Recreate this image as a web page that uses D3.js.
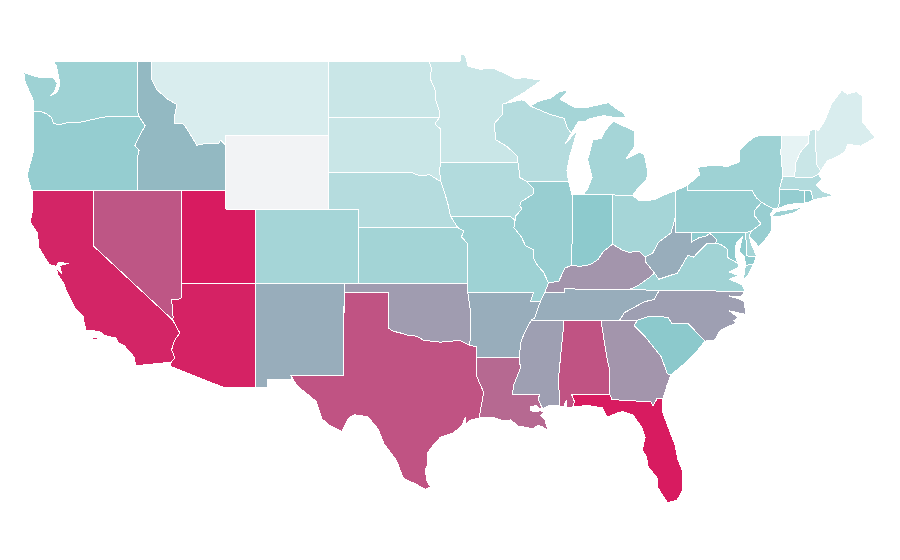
<!DOCTYPE html>
<html>
<head>
<meta charset="utf-8">
<script src="https://cdn.jsdelivr.net/npm/d3@7"></script>
<style>
  html, body { margin: 0; background: #fff; }
  svg { display: block; }
  path.state { stroke: #fff; stroke-width: 1px; shape-rendering: crispEdges; stroke-linejoin: round; }
</style>
</head>
<body>
<div id="map"></div>
<script>
// values, null = no data
var stateNames = ["Washington","Oregon","California","Nevada","Idaho","Montana","Utah","Arizona","New Mexico","Colorado",
  "North Dakota","South Dakota","Nebraska","Kansas","Oklahoma","Texas","Minnesota","Iowa","Missouri","Arkansas",
  "Louisiana","Wisconsin","Illinois","Michigan","Indiana","Ohio","Kentucky","Tennessee","Mississippi","Alabama",
  "Georgia","Florida","South Carolina","North Carolina","Virginia","West Virginia","Pennsylvania","New York","New Jersey","Delaware",
  "Maryland","Connecticut","Rhode Island","Massachusetts","Vermont","New Hampshire","Maine","Wyoming"];
var stateValues = [42,46,97,83,54.5,16.5,100,98,58,39,
  23.5,23.5,32,40,63,84,23.5,33.5,42,58,
  77.5,32,45,39,49.5,39,65,58,62,84,
  65,100,50,62,41,58,45,42,45,39,
  48.5,46.5,50,33.5,11,23.5,16.5,null];

var colorStops = [0, 50, 100];
var colorRange = ["#ffffff", "#8cc9cc", "#d81b60"];
var noDataColor = "#f2f3f5";

// shared borders, [lon, lat]
var columbia = [[-124.05,46.27],[-123.55,46.26],[-123.2,46.15],[-122.85,45.95],[-122.7,45.6],[-122.2,45.58],[-121.6,45.7],[-121.2,45.65],[-120.6,45.74],[-119.6,45.92],[-118.98,46],[-116.92,46]];
var snake = [[-116.92,46],[-116.5,45.5],[-116.85,45],[-117.2,44.45],[-116.9,44.15],[-117.03,43.8],[-117.03,42]];
var idMt = [[-116.05,49],[-116.05,48],[-115.7,47.45],[-115,46.95],[-114.35,46.65],[-114.5,46],[-114.5,45.6],[-114,45.65],[-113.8,45.5],[-113.45,45.05],[-113,44.45],[-112.3,44.55],[-111.5,44.55],[-111.4,44.73],[-111.05,44.47]];
var coloradoNorth = [[-114.05,36.2],[-114.3,36.1],[-114.7,36.1],[-114.6,35.15],[-114.63,35]];
var coloradoSouth = [[-114.63,35],[-114.15,34.3],[-114.5,33.9],[-114.7,33.4],[-114.5,32.95],[-114.72,32.72]];
var redRiver = [[-100,34.56],[-99.7,34.4],[-99.2,34.3],[-98.6,34.15],[-98.1,34.13],[-97.6,33.9],[-97,33.85],[-96.5,33.8],[-95.8,33.85],[-95.2,33.9],[-94.48,33.64]];
var txLa = [[-94.04,33],[-94.04,32],[-93.8,31.55],[-93.55,31.1],[-93.7,30.4],[-93.85,29.7]];
var ndMn = [[-97.23,49],[-97.1,48.6],[-97.15,48],[-96.85,47.5],[-96.8,46.9],[-96.55,46.3],[-96.56,45.94]];
var sdMn = [[-96.56,45.94],[-96.85,45.6],[-96.45,45.3],[-96.45,43.5]];
var sdIa = [[-96.45,43.5],[-96.55,43.1],[-96.45,42.5]];
var sdNe = [[-98.5,43],[-97.9,42.8],[-97.2,42.85],[-96.7,42.6],[-96.45,42.5]];
var neIa = [[-96.45,42.5],[-96.2,41.9],[-95.95,41.2],[-95.85,40.8],[-95.77,40.58]];
var neMo = [[-95.77,40.58],[-95.31,40]];
var ksMo = [[-95.31,40],[-94.9,39.8],[-95.05,39.5],[-94.62,39.1]];
var mnWi = [[-92.29,46.66],[-92.29,46.1],[-92.85,45.6],[-92.75,45],[-92.75,44.75],[-92,44.4],[-91.25,43.85],[-91.22,43.5]];
var wiIa = [[-91.22,43.5],[-91.15,43.1],[-91.1,42.7],[-90.64,42.5]];
var ilIa = [[-90.64,42.5],[-90.15,42.1],[-90.2,41.8],[-91,41.4],[-91.1,41.2],[-90.95,41],[-91.4,40.6],[-91.42,40.38]];
var ilMo = [[-91.42,40.38],[-91.5,40],[-91,39.5],[-90.7,39],[-90.15,38.8],[-90.2,38.4],[-89.9,37.95],[-89.5,37.6],[-89.15,37]];
var moKy = [[-89.15,37],[-89.4,36.5]];
var bootheel = [[-89.7,36],[-90.37,36],[-90.15,36.5]];
var tnMo = [[-89.4,36.5],[-89.7,36]];
var tnAr = [[-89.7,36],[-90.1,35.1],[-90.3,35]];
var arMs = [[-90.3,35],[-90.6,34.6],[-91,33.9],[-91.15,33]];
var laMs = [[-91.15,33],[-91.05,32.4],[-91.5,31.5],[-91.6,31],[-89.75,31],[-89.85,30.7],[-89.55,30.2]];
var wiMi = [[-90.4,46.57],[-89.1,46.13],[-88.1,45.9],[-87.85,45.35],[-87.6,45.1]];
var ohioOh = [[-82.6,38.4],[-83,38.73],[-83.7,38.65],[-84.2,38.8],[-84.8,39.1]];
var ohioIn = [[-84.8,39.1],[-85.4,38.73],[-85.8,38.27],[-86.3,38],[-87,37.9],[-87.6,37.95]];
var ohioIl = [[-87.6,37.95],[-88.05,37.8],[-88.45,37.1],[-89.15,37]];
var wabash = [[-87.6,37.95],[-87.6,38.7],[-87.53,39.35],[-87.53,41.76]];
var ohWv = [[-80.52,40.64],[-80.85,39.7],[-81.7,39.2],[-82.1,38.6],[-82.6,38.4]];
var kyWv = [[-82.6,38.4],[-82.6,38.17],[-81.97,37.54]];
var kyVa = [[-81.97,37.54],[-82.3,37.3],[-83.1,36.85],[-83.68,36.65]];
var wvVa = [[-81.97,37.54],[-81.68,37.2],[-80.4,37.54],[-79.7,38.5],[-79.3,38.4],[-78.9,38.75],[-78.4,39.15],[-77.83,39.13]];
var wvMd = [[-77.83,39.13],[-77.75,39.35],[-78.2,39.68],[-78.45,39.55],[-78.95,39.45],[-79.48,39.2],[-79.48,39.72]];
var potomac = [[-76.3,38.05],[-77.05,38.4],[-77.05,38.85],[-77.5,39.1],[-77.83,39.13]];
var tnNc = [[-84.32,35],[-84,35.4],[-83.2,35.75],[-82.6,36],[-82,36.1],[-81.65,36.6]];
var gaSc = [[-83.1,35],[-83.35,34.7],[-82.6,34.1],[-82,33.5],[-81.5,33],[-81.1,32.1],[-80.85,32.03]];
var scNc = [[-83.1,35],[-82.3,35.2],[-81.05,35.15],[-80.8,34.82],[-79.67,34.8],[-78.55,33.86]];
var gaAl = [[-85.6,35],[-85.18,32.9],[-85,32.3],[-85,31]];
var gaFl = [[-85,31],[-84.85,30.7],[-82.2,30.57],[-82.05,30.36],[-81.8,30.75],[-81.4,30.75]];
var msAl = [[-88.2,35],[-88.1,34.9],[-88.47,31.9],[-88.4,30.35]];
var nyPa = [[-75.35,42],[-75.05,41.6],[-74.7,41.36]];
var paNj = [[-74.7,41.36],[-75.15,40.95],[-75.2,40.65],[-74.75,40.2],[-75.4,39.8]];
var nyNj = [[-74.7,41.36],[-73.9,41],[-74.1,40.7]];
var nyCt = [[-73.65,41],[-73.5,41.3],[-73.5,42.05]];
var nyVt = [[-73.27,42.75],[-73.35,43.6],[-73.4,44],[-73.35,45]];
var vtNh = [[-71.5,45],[-71.5,44.6],[-72.05,44.1],[-72.4,43.5],[-72.46,42.73]];

function rev(seg) { return seg.slice().reverse(); }
function ring() { return [].concat.apply([], arguments); }

// one list of rings per state, same order as stateNames
var stateShapes = [
  // Washington
  [ring([[-117.03,49],[-122.72,49],[-122.5,48.7],[-122.4,48.3],[-122.3,47.9],[-122.35,47.5],[-122.5,47.3],[-122.95,47.1],[-122.65,47.35],[-122.45,47.8],[-122.75,48.12],[-123,48.1],[-123.4,48.1],[-123.9,48.15],[-124.72,48.38],[-124.65,47.9],[-124.35,47.35],[-124.1,46.9]], columbia, [[-117.04,46.4]])],
  // Oregon
  [ring([[-124.2,42],[-124.5,42.84],[-124.1,44],[-124.05,45]], columbia, snake)],
  // California
  [ring([[-124.17,42],[-120,42],[-120,39]], coloradoSouth, [[-117.13,32.53],[-117.25,33],[-117.9,33.6],[-118.3,33.75],[-118.5,34.03],[-119.2,34.15],[-119.6,34.38],[-120.5,34.45],[-120.65,34.9],[-120.65,35.15],[-121.3,35.7],[-121.85,36.6],[-122,36.95],[-122.45,37.5],[-122.5,37.8],[-122.15,37.5],[-122.3,37.95],[-121.7,38.05],[-122.35,38.12],[-122.55,37.9],[-123,38],[-123.7,38.9],[-123.8,39.7],[-124.3,40.3],[-124.1,41]]),
   [[-120.1,33.93],[-119.75,33.93],[-119.75,34.05],[-120.1,34.05]]],
  // Nevada
  [ring([[-120,42],[-114.05,42]], coloradoNorth, [[-120,39]])],
  // Idaho
  [ring([[-117.03,49]], idMt, [[-111.05,42]], rev(snake), [[-117.04,46.4]])],
  // Montana
  [ring(idMt, [[-111.05,45],[-104.05,45],[-104.05,49]])],
  // Utah
  [[[-114.05,42],[-111.05,42],[-111.05,41],[-109.05,41],[-109.05,37],[-114.05,37]]],
  // Arizona
  [ring([[-114.05,37],[-109.05,37],[-109.05,31.33],[-111.1,31.33],[-114.81,32.5]], rev(coloradoSouth), rev(coloradoNorth))],
  // New Mexico
  [[[-109.05,37],[-103,37],[-103.06,32],[-106.62,32],[-106.53,31.78],[-108.21,31.78],[-108.21,31.33],[-109.05,31.33]]],
  // Colorado
  [[[-109.05,41],[-102.05,41],[-102.05,37],[-109.05,37]]],
  // North Dakota
  [ring(ndMn, [[-104.05,45.94],[-104.05,49]])],
  // South Dakota
  [ring([[-104.05,45.94]], sdMn, sdIa, rev(sdNe), [[-104.05,43]])],
  // Nebraska
  [ring([[-104.05,43]], sdNe, neIa, neMo, [[-102.05,40],[-102.05,41],[-104.05,41]])],
  // Kansas
  [ring([[-102.05,40]], ksMo, [[-94.62,37],[-102.05,37]])],
  // Oklahoma
  [ring([[-103,37],[-94.62,37],[-94.43,35.4]], rev(redRiver), [[-100,36.5],[-103,36.5]])],
  // Texas
  [ring([[-103,36.5],[-100,36.5]], redRiver, [[-94.04,33.55]], txLa, [[-94.4,29.6],[-94.75,29.4],[-94.8,29.75],[-95,29.3],[-95.6,28.9],[-96.5,28.65],[-97.1,28.1],[-97.35,27.8],[-97.35,27.2],[-97.5,26.9],[-97.4,26.3],[-97.15,25.97],[-97.5,25.85],[-98.2,26.15],[-99,26.45],[-99.45,27.4],[-100.3,28.3],[-100.7,29.1],[-101.4,29.77],[-102.3,29.88],[-102.7,29.7],[-103.15,28.98],[-104,29.3],[-104.5,29.65],[-104.9,30.6],[-106.2,31.45],[-106.62,32],[-103.06,32]])],
  // Minnesota
  [ring([[-95.15,49],[-95.15,49.38],[-94.8,49.3],[-94.6,48.72],[-93.8,48.55],[-92.95,48.62],[-92,48.3],[-91.4,48.05],[-90.75,48.1],[-90,48],[-89.55,48],[-90.8,47.3],[-92.1,46.7]], mnWi, [[-96.45,43.5]], rev(sdMn), rev(ndMn))],
  // Iowa
  [ring([[-96.45,43.5]], wiIa, ilIa, [[-91.73,40.6],[-95.77,40.58]], rev(neIa), rev(sdIa))],
  // Missouri
  [ring([[-95.77,40.58],[-91.73,40.6]], ilMo, moKy, tnMo, bootheel, [[-94.62,36.5]], rev(ksMo), rev(neMo))],
  // Arkansas
  [ring([[-94.62,36.5]], rev(bootheel), tnAr, arMs, [[-94.04,33],[-94.04,33.55],[-94.48,33.64],[-94.43,35.4]])],
  // Louisiana
  [ring([[-94.04,33]], laMs, [[-89.75,30.2],[-90,30.38],[-90.4,30.3],[-90.4,30.1],[-90,30.03],[-89.7,30.1],[-89.45,30],[-89.7,29.85],[-89.4,29.6],[-89.15,29],[-89.6,29.25],[-89.9,29.3],[-90.2,29.1],[-90.6,29.2],[-91.2,29.25],[-91.7,29.6],[-92.2,29.55],[-93,29.75]], rev(txLa))],
  // Wisconsin
  [ring(wiMi, [[-88,44.55],[-87.2,45.25],[-87.5,44.4],[-87.7,43.9],[-87.9,43.1],[-87.8,42.5]], rev(wiIa), rev(mnWi), [[-92.1,46.7],[-91,46.9],[-90.75,46.85]])],
  // Illinois
  [ring([[-90.64,42.5],[-87.8,42.5],[-87.55,41.76]], rev(wabash), ohioIl, rev(ilMo), rev(ilIa))],
  // Michigan
  [ring(wiMi, [[-87.1,45.75],[-86.7,45.7],[-86.5,45.85],[-85.4,46.05],[-84.7,45.95],[-83.9,45.97],[-84.1,46.2],[-84.6,46.45],[-85.1,46.75],[-86.5,46.5],[-87.4,46.5],[-88.35,46.92],[-87.8,47.43],[-88.4,47.35],[-89,47],[-89.8,46.83]]),
   [[-86.8,41.76],[-84.8,41.76],[-83.45,41.73],[-83.15,42.05],[-82.5,42.6],[-82.42,43],[-82.65,43.95],[-83,44.07],[-83.9,43.7],[-83.3,44.4],[-83.3,45.2],[-84.1,45.5],[-84.75,45.75],[-85.3,45.25],[-85.6,44.8],[-86.15,44.75],[-86.5,43.65],[-86.2,42.7],[-86.5,42.1]],
   [[-88.95,47.95],[-88.5,48.15],[-88.5,48.05]]],
  // Indiana
  [ring([[-84.8,41.76]], ohioIn, wabash)],
  // Ohio
  [ring([[-84.8,41.76],[-83.45,41.73],[-83,41.45],[-82.7,41.45],[-82,41.5],[-81.5,41.7],[-80.52,42]], ohWv, ohioOh)],
  // Kentucky
  [ring(ohioOh, ohioIn, ohioIl, moKy, [[-88.05,36.5],[-88.07,36.68]], rev(kyVa), rev(kyWv))],
  // Tennessee
  [ring([[-89.4,36.5],[-88.05,36.5],[-88.07,36.68],[-83.68,36.65],[-81.65,36.6]], rev(tnNc), [[-85.6,35],[-88.2,35],[-90.3,35]], rev(tnAr), rev(tnMo))],
  // Mississippi
  [ring([[-90.3,35]], msAl, [[-89.1,30.37]], rev(laMs), rev(arMs))],
  // Alabama
  [ring(rev(msAl), gaAl, [[-87.6,31],[-87.4,30.6],[-87.5,30.3],[-87.95,30.25],[-87.95,30.65],[-88.1,30.35]])],
  // Georgia
  [ring(gaAl, gaFl, [[-81.1,31.5]], rev(gaSc))],
  // Florida
  [ring([[-87.6,31]], gaFl, [[-81.4,30],[-80.8,28.7],[-80.55,28.2],[-80.4,27.5],[-80.05,26.8],[-80.05,25.8],[-80.45,25.25],[-81.1,25.13],[-81.75,25.95],[-81.8,26.5],[-82.4,27.05],[-82.5,27.6],[-82.8,27.97],[-82.6,28.65],[-82.8,29.15],[-83.4,29.85],[-84.1,30.05],[-84.4,30],[-85.2,29.75],[-85.5,30.25],[-86.5,30.38],[-87.5,30.3],[-87.4,30.6]])],
  // South Carolina
  [ring(scNc, [[-79.2,33.2],[-80,32.6]], rev(gaSc))],
  // North Carolina
  [ring(tnNc, [[-75.85,36.55],[-76.1,36.25],[-76.9,36.3],[-76.1,36.1],[-75.85,35.95],[-75.8,35.3],[-76.9,35.5],[-76.3,35.15],[-76.6,34.95],[-76.4,34.85],[-77.5,34.45],[-77.9,33.9]], rev(scNc), [[-84.32,35]])],
  // Virginia
  [ring([[-83.68,36.65],[-81.65,36.6],[-75.85,36.55],[-76,36.9],[-76.9,37.2],[-76.3,37.4],[-76.9,37.6],[-76.3,37.85]], potomac, rev(wvVa), kyVa),
   [[-75.8,37.95],[-75.25,38.03],[-75.65,37.4],[-75.95,37.15]]],
  // West Virginia
  [ring(ohWv, kyWv, wvVa, wvMd, [[-80.52,39.72]])],
  // Pennsylvania
  [ring([[-80.52,42],[-79.76,42.27],[-79.76,42]], nyPa, paNj, [[-75.79,39.72],[-80.52,39.72]])],
  // New York
  [ring([[-79.76,42.27],[-79.76,42]], nyPa, nyNj, [[-73.8,41.05]], nyCt, [[-73.27,42.75]], nyVt, [[-74.95,44.95],[-75.3,44.85],[-76.2,44.2],[-76.2,43.55],[-77,43.3],[-78,43.37],[-79.05,43.25],[-78.9,42.85]]),
   [[-74.05,40.6],[-73.75,40.85],[-72.6,41],[-71.9,41.1],[-72.5,40.8],[-73.5,40.6]]],
  // New Jersey
  [ring(nyNj, [[-74,40.45],[-74.05,39.8],[-74.4,39.4],[-74.9,38.95],[-75.2,39.25],[-75.55,39.55]], rev(paNj))],
  // Delaware
  [[[-75.79,39.72],[-75.4,39.8],[-75.55,39.55],[-75.4,39.1],[-75.05,38.45],[-75.7,38.46]]],
  // Maryland
  [ring([[-79.48,39.72],[-75.79,39.72],[-75.7,38.46],[-75.05,38.45],[-75.25,38.03],[-75.8,37.95],[-75.85,38.4],[-76.2,38.7],[-76.15,39],[-76,39.5],[-76.4,39.2],[-76.5,38.8],[-76.45,38.4]], potomac, wvMd)],
  // Connecticut
  [[[-73.5,42.05],[-71.8,42.02],[-71.8,41.32],[-72.9,41.25],[-73.65,41],[-73.5,41.3]]],
  // Rhode Island
  [[[-71.8,42.02],[-71.38,42.02],[-71.2,41.5],[-71.5,41.37],[-71.8,41.32]]],
  // Massachusetts
  [[[-73.5,42.05],[-73.27,42.75],[-72.46,42.73],[-71.3,42.7],[-70.85,42.87],[-70.6,42.6],[-71,42.3],[-70.6,41.95],[-70.05,41.8],[-70.2,42.07],[-69.95,41.7],[-70.6,41.6],[-71.2,41.5],[-71.38,42.02],[-71.8,42.02]]],
  // Vermont
  [ring(vtNh, [[-73.27,42.75]], nyVt)],
  // New Hampshire
  [ring([[-71.4,45.25],[-71.08,45.3],[-70.98,43.4],[-70.7,43.07],[-70.85,42.87],[-71.3,42.7]], rev(vtNh))],
  // Maine
  [[[-71.08,45.3],[-70.85,45.25],[-70.4,45.8],[-70.2,46.2],[-69.95,46.7],[-69.25,47.45],[-68.9,47.2],[-68.3,47.35],[-67.85,47.1],[-67.85,45.7],[-67.45,45.3],[-67,44.85],[-68,44.4],[-68.85,44.5],[-69.1,44.05],[-69.8,43.75],[-70.25,43.6],[-70.7,43.07],[-70.98,43.4]]],
  // Wyoming
  [[[-111.05,45],[-104.05,45],[-104.05,41],[-111.05,41]]]
];

var width = 900, height = 560;

var lonScale = d3.scaleLinear().domain([-109.05, -102.05]).range([255, 358.25]);
var latScale = d3.scaleLinear().domain([49, 41]).range([61, 209]);

var projection = d3.geoTransform({
  point: function(lon, lat) {
    this.stream.point(lonScale(lon), latScale(lat));
  }
});
var path = d3.geoPath().projection(projection);

var color = d3.scaleLinear().domain(colorStops).range(colorRange);

var svg = d3.select("#map").append("svg")
  .attr("width", width)
  .attr("height", height);

svg.selectAll(".state")
  .data(stateNames)
  .enter().append("path")
  .attr("class", "state")
  .attr("d", function(d, i) {
    return path({
      type: "MultiPolygon",
      // geoPath drops the last point of a ring, so close each one
      coordinates: stateShapes[i].map(function(r) { return [r.concat([r[0]])]; })
    });
  })
  .attr("fill", function(d, i) {
    return stateValues[i] === null ? noDataColor : color(stateValues[i]);
  });
</script>
</body>
</html>
